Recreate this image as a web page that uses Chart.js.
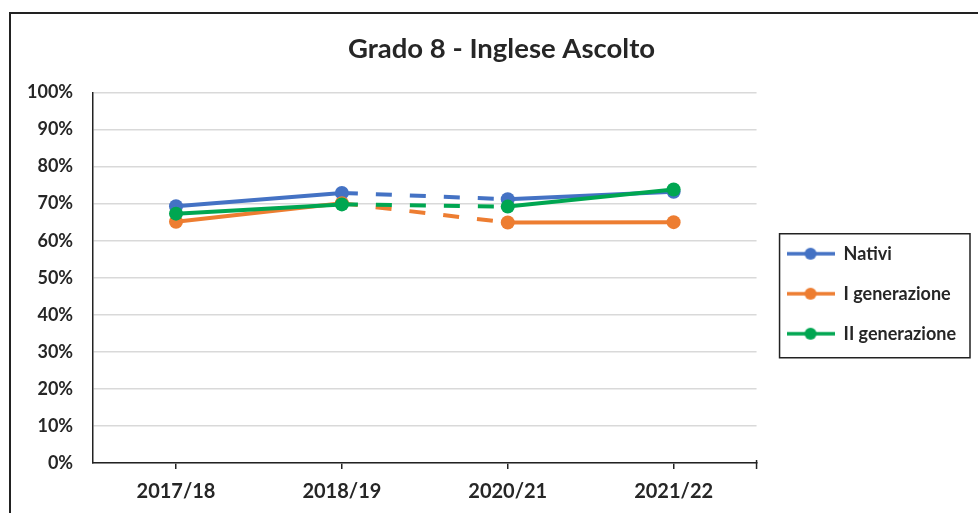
<!DOCTYPE html>
<html>
<head>
<meta charset="utf-8">
<script src="https://cdn.jsdelivr.net/npm/chart.js@4"></script>
<style>
    body { margin: 0; background: #fff; }
    .frame {
        position: absolute; left: 9px; top: 12px; width: 1000px; height: 600px;
        border-left: 2px solid #222; border-top: 2px solid #222;
    }
    #chart { position: absolute; left: 0; top: 0; }
</style>
</head>
<body>
<div class="frame"></div>
<canvas id="chart" width="978" height="513"></canvas>
<script>
const years = ['2017/18', '2018/19', '2020/21', '2021/22'];
const nativi = [69.3, 72.9, 71.2, 73.2];
const primaGen = [65.1, 70.1, 64.9, 65.0];
const secondaGen = [67.3, 69.8, 69.2, 73.8];
const seriesNames = ['Nativi', 'I generazione', 'II generazione'];
const seriesColors = ['#4472C4', '#ED7D31', '#00A651'];

const textColor = '#262626';
const fontName = 'Lato';

// little line + dot used as legend marker
function legendMarker(color) {
    const c = document.createElement('canvas');
    c.width = 48;
    c.height = 14;
    const g = c.getContext('2d');
    g.strokeStyle = color;
    g.lineWidth = 3.5;
    g.beginPath();
    g.moveTo(0, 7);
    g.lineTo(48, 7);
    g.stroke();
    g.fillStyle = color;
    g.beginPath();
    g.arc(24, 7, 6, 0, Math.PI * 2);
    g.fill();
    return c;
}

function makeDataset(label, values, color, order) {
    return {
        label: label,
        data: values,
        borderColor: color,
        backgroundColor: color,
        borderWidth: 4,
        pointRadius: 7,
        pointHoverRadius: 7,
        pointBackgroundColor: color,
        pointBorderWidth: 0,
        order: order,
        segment: {
            // gap year 2019/20 -> dashed link
            borderDash: ctx => ctx.p0DataIndex === 1 ? [16, 18] : undefined
        }
    };
}

// nudge legend away from the plot, title to the middle of the frame
const blockShift = {
    id: 'blockShift',
    afterLayout(chart) {
        chart.legend.left += 8;
        chart.legend.right += 8;
        chart.titleBlock.left += 19;
        chart.titleBlock.right += 19;
    }
};

const legendFrame = {
    id: 'legendFrame',
    afterDraw(chart) {
        const boxes = chart.legend.legendHitBoxes;
        if (!boxes || !boxes.length) return;
        const first = boxes[0];
        const last = boxes[boxes.length - 1];
        let right = 0;
        boxes.forEach(b => { right = Math.max(right, b.left + b.width); });
        const ctx = chart.ctx;
        ctx.save();
        ctx.strokeStyle = '#222';
        ctx.lineWidth = 1.5;
        ctx.strokeRect(first.left - 7, first.top - 11, right + 14 - (first.left - 7), last.top + last.height + 15 - (first.top - 11));
        // closing tick mark at the end of the category axis
        const area = chart.chartArea;
        ctx.beginPath();
        ctx.moveTo(area.right, area.bottom - 3);
        ctx.lineTo(area.right, area.bottom + 6);
        ctx.stroke();
        ctx.restore();
    }
};

const whiteBg = {
    id: 'whiteBg',
    beforeDraw(chart) {
        const ctx = chart.ctx;
        ctx.save();
        ctx.fillStyle = '#fff';
        ctx.fillRect(11, 14, chart.width, chart.height);
        ctx.restore();
    }
};

new Chart(document.getElementById('chart'), {
    type: 'line',
    data: {
        labels: years,
        datasets: [
            makeDataset(seriesNames[0], nativi, seriesColors[0], 3),
            makeDataset(seriesNames[1], primaGen, seriesColors[1], 2),
            makeDataset(seriesNames[2], secondaGen, seriesColors[2], 1)
        ]
    },
    options: {
        responsive: false,
        animation: false,
        layout: { padding: { top: 14, left: 7, right: 20, bottom: -2 } },
        plugins: {
            title: {
                display: true,
                text: 'Grado 8 - Inglese Ascolto',
                color: textColor,
                font: { family: fontName, size: 27.5, weight: 'bold' },
                padding: { top: 19, bottom: 26.5 }
            },
            legend: {
                position: 'right',
                fullSize: false,
                title: { display: true, text: ' ', font: { size: 10 }, padding: { top: 20, bottom: 0 } },
                labels: {
                    usePointStyle: true,
                    pointStyleWidth: 48,
                    padding: 22,
                    color: textColor,
                    font: { family: fontName, size: 18, weight: 'bold' },
                    sort: (a, b) => a.datasetIndex - b.datasetIndex,
                    generateLabels: chart => chart.data.datasets.map((ds, i) => ({
                        text: ds.label,
                        fillStyle: ds.borderColor,
                        strokeStyle: ds.borderColor,
                        fontColor: textColor,
                        lineWidth: 0,
                        pointStyle: legendMarker(ds.borderColor),
                        datasetIndex: i,
                        hidden: false
                    }))
                }
            },
            tooltip: { enabled: false }
        },
        scales: {
            x: {
                offset: true,
                grid: { offset: false, drawOnChartArea: false, drawTicks: true, tickLength: 6, color: '#222', lineWidth: 1.5 },
                border: { color: '#222', width: 1.5 },
                ticks: {
                    color: textColor,
                    padding: 11,
                    font: { family: fontName, size: 20, weight: 'bold' }
                }
            },
            y: {
                min: 0,
                max: 100,
                grid: { color: '#d9d9d9', lineWidth: 1.5, drawTicks: false },
                border: { color: '#222', width: 1.5 },
                ticks: {
                    stepSize: 10,
                    padding: 20,
                    color: textColor,
                    font: { family: fontName, size: 18, weight: 'bold' },
                    callback: v => v + '%'
                }
            }
        }
    },
    plugins: [whiteBg, blockShift, legendFrame]
});
</script>
</body>
</html>
